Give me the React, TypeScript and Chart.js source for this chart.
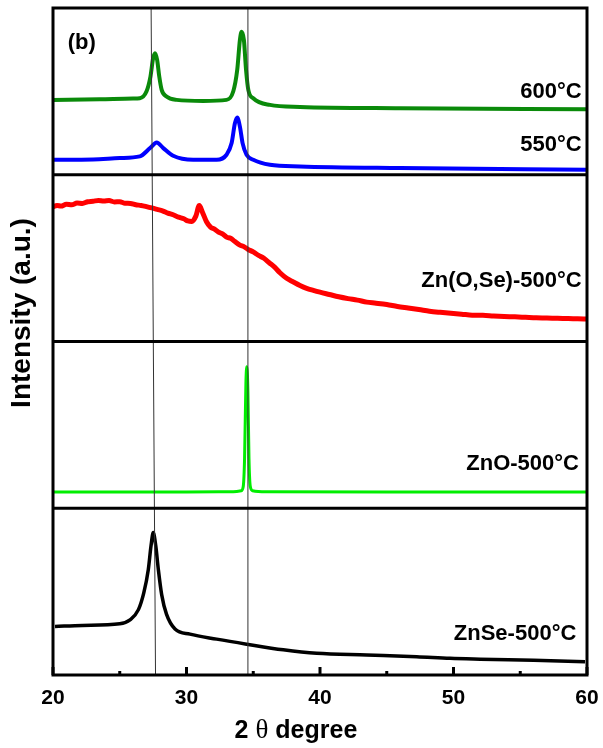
import React, { useEffect, useRef } from 'react';
import { Chart, registerables } from 'chart.js';

Chart.register(...registerables);

// ---------- axis ----------
const X_MIN = 20;
const X_MAX = 60;
const X_TICKS = [20, 25, 30, 35, 40, 45, 50, 55, 60];
const X_TICK_LABELS = ['20', '', '30', '', '40', '', '50', '', '60'];
const Y_MAX = 400; // four stacked panels of 100 units
const PANEL_EDGES = [100, 200, 300];

// ---------- series (2θ, panel-local intensity) ----------
const s600X = [20, 23.5, 26.0, 26.5, 27.0, 27.3, 27.5, 27.64, 27.8, 27.96, 28.14, 28.5, 29.26, 31.26, 33.0, 33.5, 33.8, 34.0, 34.13, 34.3, 34.46, 34.63, 35.0, 36.25, 38.5, 46, 60];
const s600Y = [44.9, 45.3, 45.7, 45.9, 49.9, 58.9, 69.9, 72.9, 68.9, 58.9, 50.9, 46.9, 44.9, 44.3, 44.9, 49.9, 62.9, 80.8, 85.8, 80.8, 62.9, 50.9, 45.9, 41.9, 40.7, 39.9, 39.3];

const s550X = [20, 23, 25, 26.5, 27.27, 27.77, 28.26, 29.0, 30.5, 32.26, 33.0, 33.38, 33.63, 33.8, 34.0, 34.2, 34.5, 35.0, 36.25, 38.5, 46, 60];
const s550Y = [9.0, 9.2, 10.0, 11.0, 16.0, 19.3, 16.0, 11.4, 9.0, 9.0, 12.0, 19.0, 31.0, 34.3, 28.9, 19.0, 12.0, 9.0, 6.0, 5.0, 4.0, 3.0];

const znoseX = [20.0, 20.3, 20.6, 21.0, 21.4, 21.8, 22.2, 22.6, 23.0, 23.4, 23.8, 24.2, 24.6, 25.0, 25.4, 25.8, 26.2, 26.6, 27.0, 27.4, 27.8, 28.2, 28.6, 29.0, 29.4, 29.8, 30.1, 30.4, 30.7, 30.96, 31.2, 31.5, 31.8, 32.1, 32.4, 32.7, 33.0, 33.3, 33.6, 34.0, 34.3, 34.6, 35.0, 35.4, 35.8, 36.2, 36.6, 37.0, 37.5, 38.0, 38.5, 39.0, 39.5, 40.0, 40.7, 41.4, 42.1, 42.8, 43.5, 44.2, 45.0, 45.8, 46.6, 47.4, 48.2, 49.0, 49.8, 50.6, 51.4, 52.2, 53.0, 53.8, 54.6, 55.4, 56.2, 57.0, 57.8, 58.6, 59.3, 60.0];
const znoseY = [80.8, 81.6, 81.2, 82.3, 82.0, 83.0, 82.8, 83.8, 84.1, 84.6, 84.2, 84.5, 83.7, 83.8, 82.9, 82.8, 82.0, 81.6, 80.9, 80.1, 79.2, 78.4, 77.0, 76.0, 74.6, 73.6, 72.3, 72.0, 75.2, 81.5, 77.4, 71.8, 68.6, 67.4, 65.6, 64.5, 62.6, 61.9, 60.1, 57.8, 56.9, 55.3, 53.7, 51.6, 49.9, 47.2, 44.6, 41.2, 37.9, 35.7, 33.6, 31.9, 30.7, 29.6, 28.2, 26.8, 25.7, 24.8, 23.6, 23.0, 22.2, 21.0, 20.1, 19.2, 18.2, 17.5, 16.9, 16.4, 15.8, 15.7, 15.3, 15.0, 14.8, 14.5, 14.2, 14.1, 13.9, 13.8, 13.6, 13.5];

const znoX = [20, 30, 33.5, 34.1, 34.25, 34.35, 34.45, 34.52, 34.6, 34.68, 34.78, 34.95, 36, 45, 60];
const znoY = [9.8, 9.8, 9.9, 10.5, 13, 30, 75, 84.8, 70, 30, 13, 10.5, 9.9, 9.8, 9.8];

const znseX = [20.15, 22.2, 25.0, 25.77, 26.4, 26.8, 27.14, 27.34, 27.51, 27.7, 27.89, 28.14, 28.5, 29.14, 30.26, 32.26, 34.5, 37.25, 39.75, 43.5, 47.24, 49.74, 52.0, 56.0, 59.85];
const znseY = [29.1, 29.7, 30.7, 33.1, 39.2, 49.2, 63.3, 77.3, 85.4, 77.3, 63.3, 48.2, 36.5, 27.6, 24.5, 21.5, 18.5, 15.1, 13.0, 12.0, 11.0, 10.0, 9.5, 8.8, 8.0];

// reference lines (2θ at bottom, 2θ at top)
const refLine1 = [27.68, 27.35];
const refLine2 = [34.58, 34.6];

// labels
const labelTexts = ['600°C', '550°C', 'Zn(O,Se)-500°C', 'ZnO-500°C', 'ZnSe-500°C'];
const labelX = [59.6, 59.6, 59.6, 59.4, 59.2];
const labelY = [349.7, 318, 236.3, 126.5, 24.7];

const FONT = '"Liberation Sans", Arial, sans-serif';

function pts(xs: number[], ys: number[], off: number) {
  return xs.map((x, i) => ({ x, y: ys[i] + off }));
}

const decorPlugin = {
  id: 'decor',
  afterDatasetsDraw(chart: any) {
    const { ctx, chartArea: a, scales } = chart;
    const xs = scales.x;
    const ys = scales.y;
    ctx.save();
    ctx.strokeStyle = '#000';
    ctx.lineWidth = 3;
    PANEL_EDGES.forEach((v) => {
      const py = ys.getPixelForValue(v);
      ctx.beginPath();
      ctx.moveTo(a.left, py);
      ctx.lineTo(a.right, py);
      ctx.stroke();
    });
    ctx.strokeRect(a.left, a.top, a.right - a.left, a.bottom - a.top);
    X_TICKS.forEach((v) => {
      const px = xs.getPixelForValue(v);
      const len = v % 10 === 0 ? 8 : 4;
      ctx.beginPath();
      ctx.moveTo(px, a.bottom);
      ctx.lineTo(px, a.bottom - len);
      ctx.stroke();
    });
    ctx.fillStyle = '#000';
    ctx.font = `bold 22px ${FONT}`;
    ctx.textAlign = 'right';
    ctx.textBaseline = 'middle';
    labelTexts.forEach((t, i) => {
      ctx.fillText(t, xs.getPixelForValue(labelX[i]), ys.getPixelForValue(labelY[i]));
    });
    ctx.textAlign = 'left';
    ctx.fillText('(b)', xs.getPixelForValue(21.1), ys.getPixelForValue(379));
    // x title: "2 θ degree"
    const cx = xs.getPixelForValue(38.2);
    const ty = 731;
    const f1 = `bold 25px ${FONT}`;
    const f2 = `27px "Liberation Serif", "Times New Roman", serif`;
    ctx.font = f1;
    const w1 = ctx.measureText('2 ').width;
    const w3 = ctx.measureText(' degree').width;
    ctx.font = f2;
    const w2 = ctx.measureText('θ').width;
    let sx = cx - (w1 + w2 + w3) / 2;
    ctx.font = f1;
    ctx.fillText('2 ', sx, ty);
    sx += w1;
    ctx.font = f2;
    ctx.fillText('θ', sx, ty);
    sx += w2;
    ctx.font = f1;
    ctx.fillText(' degree', sx, ty);
    // y title
    ctx.translate(22, 313);
    ctx.rotate(-Math.PI / 2);
    ctx.textAlign = 'center';
    ctx.font = `bold 28px ${FONT}`;
    ctx.fillText('Intensity (a.u.)', 0, 0);
    ctx.restore();
  },
};

export default function App() {
  const ref = useRef<HTMLCanvasElement>(null);
  useEffect(() => {
    if (!ref.current) return;
    const line = (data: any, color: string, width: number, extra: any = {}) => ({
      data,
      borderColor: color,
      backgroundColor: color,
      borderWidth: width,
      pointRadius: 0,
      fill: false,
      cubicInterpolationMode: 'monotone',
      ...extra,
    });
    const chart = new Chart(ref.current, {
      type: 'line',
      data: {
        datasets: [
          line([{ x: refLine1[0], y: 0 }, { x: refLine1[1], y: Y_MAX }], '#333', 1, { cubicInterpolationMode: 'default', tension: 0 }),
          line([{ x: refLine2[0], y: 0 }, { x: refLine2[1], y: Y_MAX }], '#333', 1, { cubicInterpolationMode: 'default', tension: 0 }),
          line(pts(s600X, s600Y, 300), '#0a8a0a', 4),
          line(pts(s550X, s550Y, 300), '#0000ff', 4),
          line(pts(znoseX, znoseY, 200), '#ff0000', 5),
          line(pts(znoX, znoY, 100), '#00ee00', 3),
          line(pts(znseX, znseY, 0), '#000000', 3.5),
        ],
      },
      options: {
        responsive: false,
        animation: false,
        layout: { padding: { top: 8, right: 16, left: 0, bottom: 0 } },
        plugins: { legend: { display: false }, tooltip: { enabled: false } },
        scales: {
          x: {
            type: 'linear',
            min: X_MIN,
            max: X_MAX,
            afterBuildTicks: (s: any) => {
              s.ticks = X_TICKS.map((v) => ({ value: v }));
            },
            ticks: {
              callback: (v: any) => X_TICK_LABELS[X_TICKS.indexOf(Number(v))] ?? '',
              font: { family: FONT, size: 21, weight: 'bold' },
              color: '#000',
              padding: 11,
              maxRotation: 0,
              autoSkip: false,
            },
            grid: { display: false, drawTicks: false },
            border: { display: false },
            afterFit: (s: any) => {
              s.height = 73;
              s.paddingLeft = 0;
              s.paddingRight = 0;
            },
          },
          y: {
            type: 'linear',
            min: 0,
            max: Y_MAX,
            ticks: { display: false },
            grid: { display: false, drawTicks: false },
            border: { display: false },
            afterFit: (s: any) => {
              s.width = 53;
              s.paddingTop = 0;
              s.paddingBottom = 0;
            },
          },
        },
      } as any,
      plugins: [decorPlugin],
    });
    return () => chart.destroy();
  }, []);
  return (
    <div style={{ position: 'absolute', left: 0, top: 0, width: 603, height: 748, background: '#fff' }}>
      <canvas ref={ref} width={603} height={748} style={{ display: 'block' }} />
    </div>
  );
}
